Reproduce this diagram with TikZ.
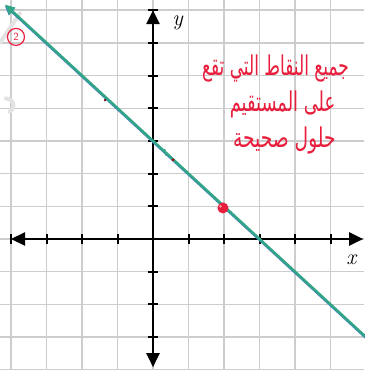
\documentclass[tikz,border=0pt]{standalone}
\usepackage{fontspec}
\usetikzlibrary{arrows.meta}
\TeXXeTstate=1
\newfontfamily\arabicfont[Script=Arabic]{DejaVu Sans}
\definecolor{gridgray}{RGB}{205,205,205}
\definecolor{linegreen}{RGB}{50,165,135}
\definecolor{lineblue}{RGB}{70,120,210}
\definecolor{inkred}{RGB}{232,30,60}
\tikzset{
  gridline/.style={gridgray, line width=1.4pt},
  axisline/.style={black, line width=2.2pt, -{Triangle[length=14pt,width=13pt]}},
  tickmark/.style={black, line width=2pt},
  redtext/.style={inkred, font=\arabicfont\fontsize{17}{20}\selectfont, inner sep=0pt},
  axlabel/.style={font=\fontsize{22}{22}\selectfont, inner sep=0pt},
}
\begin{document}
\begin{tikzpicture}[x=35.5pt, y=32.7pt]
\useasboundingbox (-4.31,-4.006) rectangle (5.944,7.309);
\fill[white] (-4.31,-4.006) rectangle (5.944,7.309);
% grid
\foreach \i in {-4,...,5} \draw[gridline] (\i,-4.006) -- (\i,7.309);
\foreach \j in {-4,...,7} \draw[gridline] (-4.31,\j) -- (5.944,\j);
% faint watermark strokes
\draw[gray!22, line width=4pt, line cap=round] (-4.31,6.0) -- (-3.75,6.9);
\draw[gray!22, line width=4pt, line cap=round] (-4.15,4.3) arc (90:-60:0.22);
% axes
\coordinate (O) at (0,0);
\coordinate (xl) at (-4.0,0);
\coordinate (xr) at (5.92,0);
\coordinate (yt) at (0,7.0);
\coordinate (yb) at (0,-3.92);
\draw[axisline] (O) -- (xr);
\draw[axisline] (O) -- (xl);
\draw[axisline] (O) -- (yt);
\draw[axisline] (O) -- (yb);
\foreach \i in {-4,-3,-2,-1,1,2,3,4,5} \draw[tickmark] (\i,-0.16) -- (\i,0.16);
\foreach \j in {-3,-2,-1,1,2,3,4,5,6,7} \draw[tickmark] (-0.14,\j) -- (0.14,\j);
\node[axlabel] (ylab) at (0.70,6.62) {\textit{y}};
\node[axlabel] (xlab) at (5.60,-0.62) {\textit{x}};
% line x+y=3
\coordinate (A) at (-4.17,7.17);
\coordinate (B) at (6.1,-3.1);
\draw[lineblue, line width=1.2pt, -{Triangle[length=9pt,width=8pt]}] ([yshift=-1.6pt]B) -- ([yshift=-1.6pt]A);
\draw[linegreen, line width=2.6pt, -{Triangle[length=10pt,width=9pt]}] (B) -- (A);
% red marks
\fill[inkred] (1.97,0.95) circle (5.5pt);
\fill[white, opacity=0.5] (1.90,1.0) circle (1.6pt);
\fill[red!70!black] (0.56,2.42) circle (1.5pt);
\fill[red!40!black] (-1.35,4.25) circle (1.3pt);
\draw[linegreen, line width=1.2pt] (0.33,2.75) -- (0.36,2.55);
% circled 2
\node[draw=inkred, circle, line width=1.2pt, minimum size=17pt, inner sep=0pt, text=inkred, font=\sffamily\fontsize{11}{11}\selectfont] (two) at (-3.86,6.18) {2};
% Arabic note
\node[redtext] (t1) at (3.45,5.22) {\scalebox{1}[1.6]{\beginR جميع النقاط التي تقع\endR}};
\node[redtext] (t2) at (3.65,4.12) {\scalebox{1.05}[1.6]{\beginR على المستقيم\endR}};
\node[redtext] (t3) at (3.70,3.02) {\scalebox{1.1}[1.6]{\beginR حلول صحيحة\endR}};
\end{tikzpicture}
\end{document}
